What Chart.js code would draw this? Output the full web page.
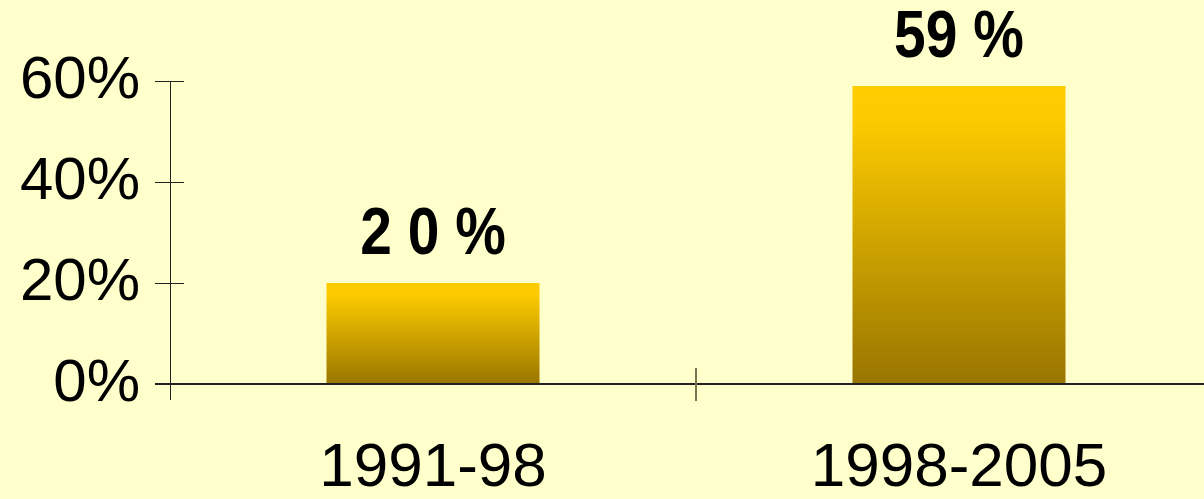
<!DOCTYPE html>
<html lang="en">
<head>
<meta charset="UTF-8">
<title>Bar chart</title>
<style>
  html, body {
    margin: 0;
    padding: 0;
    overflow: hidden;
    background-color: #FFFFCC;
  }
  .wrap {
    position: relative;
    width: 1222px;
    height: 499px;
  }
</style>
</head>
<body>
<div class="wrap"><canvas id="chart"></canvas></div>

<script src="https://cdn.jsdelivr.net/npm/chart.js"></script>
<script>
  const periods = ['1991-98', '1998-2005'];
  const shares = [20, 59];
  const shareLabels = ['2 0 %', '59 %'];
  const yTicks = [0, 20, 40, 60];

  const font = '"Liberation Sans", Arial, sans-serif';

  // axes, tick marks drawn by hand so they cross the axis lines
  const axisMarks = {
    id: 'axisMarks',
    afterDraw(chart) {
      const { ctx, chartArea, scales } = chart;
      const x = scales.x, y = scales.y;
      ctx.save();
      ctx.strokeStyle = '#222';
      ctx.lineWidth = 1;
      // y axis line
      ctx.beginPath();
      ctx.moveTo(chartArea.left + 0.5, chartArea.top);
      ctx.lineTo(chartArea.left + 0.5, chartArea.bottom + 16);
      ctx.stroke();
      // y ticks
      yTicks.forEach(v => {
        const py = Math.round(y.getPixelForValue(v)) + 0.5;
        ctx.beginPath();
        ctx.moveTo(chartArea.left - 15, py);
        ctx.lineTo(chartArea.left + 14, py);
        ctx.stroke();
      });
      // x axis line
      ctx.lineWidth = 2;
      ctx.beginPath();
      ctx.moveTo(chartArea.left - 15, y.getPixelForValue(0));
      ctx.lineTo(chartArea.right, y.getPixelForValue(0));
      ctx.stroke();
      // category boundary ticks
      ctx.strokeStyle = '#7a7350';
      ctx.lineWidth = 2;
      for (let i = 1; i < periods.length; i++) {
        const px = (x.getPixelForValue(i - 1) + x.getPixelForValue(i)) / 2;
        ctx.beginPath();
        ctx.moveTo(px, chartArea.bottom - 16);
        ctx.lineTo(px, chartArea.bottom + 17);
        ctx.stroke();
      }
      // value labels above bars, condensed bold
      ctx.fillStyle = '#000';
      ctx.font = 'bold 67px ' + font;
      ctx.textAlign = 'center';
      ctx.textBaseline = 'alphabetic';
      chart.getDatasetMeta(0).data.forEach((bar, i) => {
        ctx.save();
        ctx.translate(bar.x, bar.y - 29);
        ctx.scale(0.85, 1);
        ctx.fillText(shareLabels[i], 0, 0);
        ctx.restore();
      });
      ctx.restore();
    }
  };

  function barFill(context) {
    const chart = context.chart;
    const y = chart.scales.y;
    if (!chart.chartArea || !y) return '#E0B000';
    const top = y.getPixelForValue(shares[context.dataIndex]);
    const bottom = y.getPixelForValue(0);
    const g = chart.ctx.createLinearGradient(0, top, 0, bottom);
    g.addColorStop(0, '#FFCC00');
    g.addColorStop(0.12, '#FCCA00');
    g.addColorStop(1, '#987600');
    return g;
  }

  new Chart(document.getElementById('chart'), {
    type: 'bar',
    data: {
      labels: periods,
      datasets: [{
        data: shares,
        backgroundColor: barFill,
        borderWidth: 0,
        barPercentage: 0.405,
        categoryPercentage: 1
      }]
    },
    options: {
      responsive: true,
      maintainAspectRatio: false,
      animation: false,
      layout: { padding: { top: 81, right: 0 } },
      plugins: {
        legend: { display: false },
        tooltip: { enabled: false }
      },
      scales: {
        y: {
          min: 0,
          max: 60,
          afterBuildTicks(scale) {
            scale.ticks = yTicks.map(v => ({ value: v }));
          },
          afterFit(scale) { scale.width = 170; },
          grid: { display: false },
          border: { display: false },
          ticks: {
            color: '#000',
            padding: 22,
            font: { family: font, size: 60 },
            callback: v => v + '%'
          }
        },
        x: {
          afterFit(scale) { scale.height = 115; },
          grid: { display: false },
          border: { display: false },
          ticks: {
            color: '#000',
            padding: 40,
            maxRotation: 0,
            font: { family: font, size: 62 }
          }
        }
      }
    },
    plugins: [axisMarks]
  });
</script>
</body>
</html>
